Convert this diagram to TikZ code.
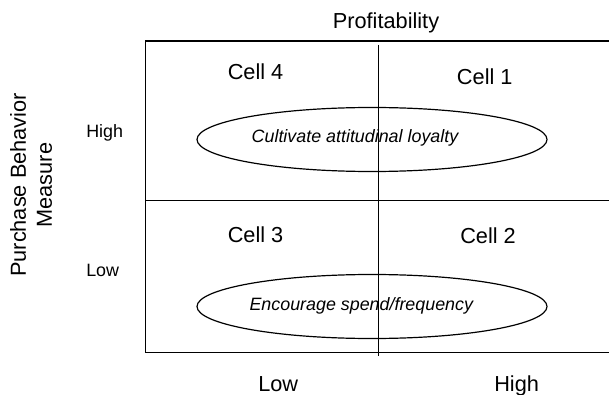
\documentclass[tikz,border=0pt]{standalone}
\usepackage{fontspec}
\setmainfont{Liberation Sans}
\usetikzlibrary{shapes.geometric}

\tikzset{
    biglabel/.style={font=\fontsize{16.3}{19.5}\selectfont, inner sep=0pt},
    smalllabel/.style={font=\fontsize{13.4}{16}\selectfont, inner sep=0pt},
    strategy/.style={draw, ellipse, line width=0.9pt, inner sep=0pt,
        minimum width=262.5pt, minimum height=48pt},
    gridline/.style={line width=1.2pt},
}

\begin{document}
\begin{tikzpicture}[x=0.75pt, y=-0.75pt]
    \useasboundingbox (0,0) rectangle (609,395);

    % Matrix frame (open on the right)
    \coordinate (topright) at (609,41);
    \coordinate (topleft) at (145.5,41);
    \coordinate (botleft) at (145.5,352.5);
    \coordinate (botright) at (609,352.5);
    \draw[gridline] (topright) -- (topleft) -- (botleft) -- (botright);

    % Dividers
    \coordinate (midleft) at (145.5,200.5);
    \coordinate (midright) at (609,200.5);
    \coordinate (divtop) at (378.5,45);
    \coordinate (divbot) at (378.5,356);
    \draw[gridline] (midleft) -- (midright);
    \draw[gridline] (divtop) -- (divbot);

    % Strategy ellipses
    \node[strategy] (loyalty) at (372,139.5) {};
    \node[strategy] (spend) at (372,306.5) {};
    \node[smalllabel, anchor=base] (loyaltytext) at (355,142.7) {\itshape Cultivate attitudinal loyalty};
    \node[smalllabel, anchor=base] (spendtext) at (361.3,310) {\itshape Encourage spend/frequency};

    % Cells
    \node[biglabel, anchor=base west] (cellfour) at (227.5,80) {Cell 4};
    \node[biglabel, anchor=base west] (cellone) at (456.7,85) {Cell 1};
    \node[biglabel, anchor=base west] (cellthree) at (227.5,242.7) {Cell 3};
    \node[biglabel, anchor=base west] (celltwo) at (460,243) {Cell 2};

    % Axis labels
    \node[biglabel, anchor=base] (profit) at (386,28.3) {Profitability};
    \node[biglabel, anchor=base west] (xlow) at (258,391.7) {Low};
    \node[biglabel, anchor=base west] (xhigh) at (494,391.7) {High};
    \node[smalllabel, anchor=base west] (yhigh) at (86,138) {High};
    \node[smalllabel, anchor=base west] (ylow) at (86,276) {Low};
    \node[biglabel, rotate=90, align=center] (purchase) at (31,185) {Purchase Behavior\\Measure};
\end{tikzpicture}
\end{document}
